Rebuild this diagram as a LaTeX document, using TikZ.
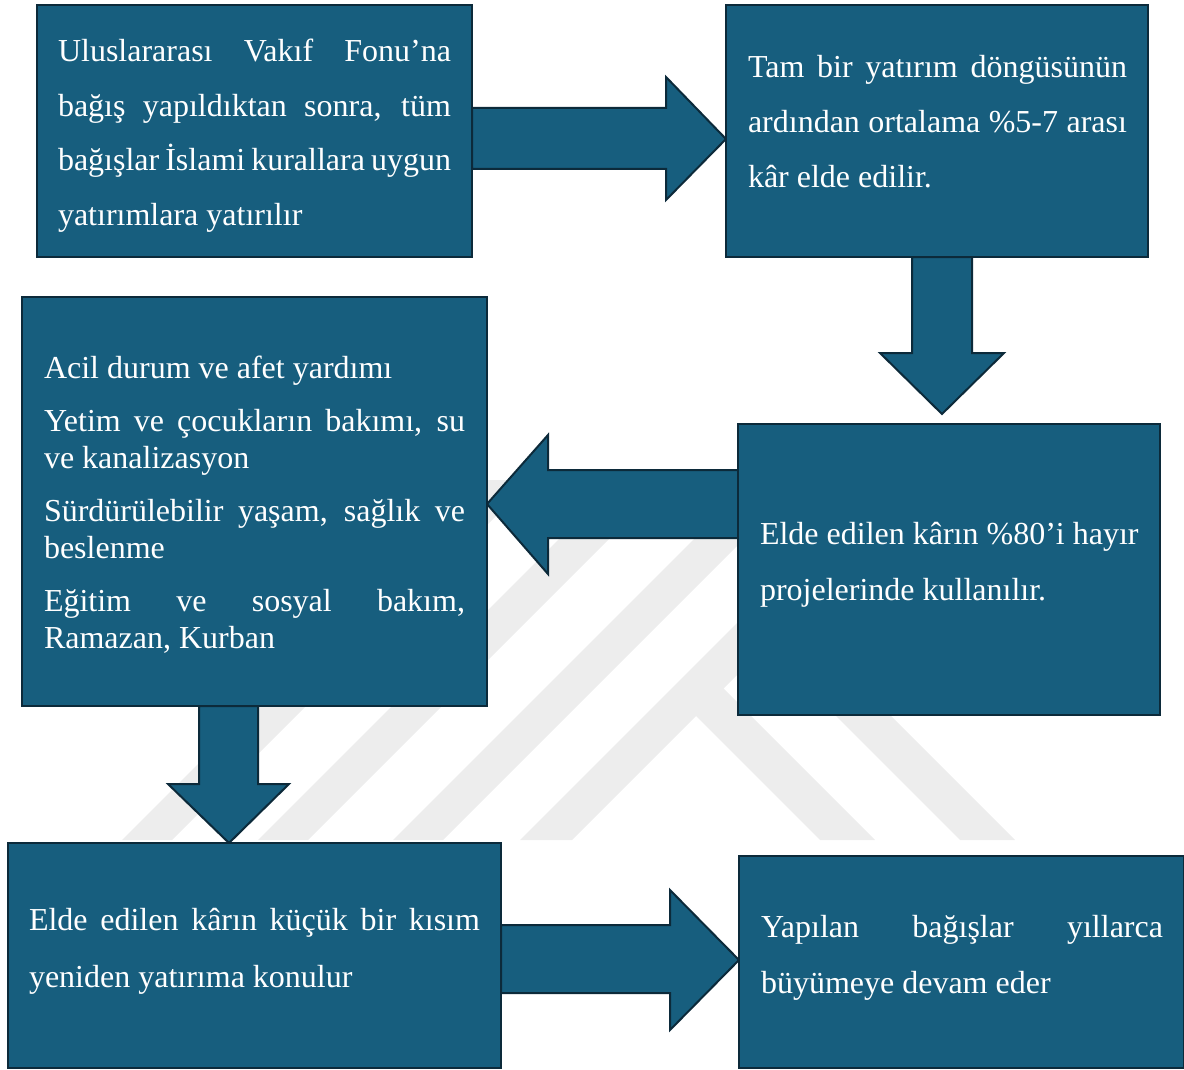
\documentclass[tikz,border=0pt]{standalone}
\usepackage{fontspec}
\setmainfont{Liberation Serif}
\definecolor{boxfill}{RGB}{23,94,126}
\definecolor{boxline}{RGB}{12,42,58}
\definecolor{wmgray}{RGB}{237,237,237}
\newcommand\myjust[2]{\makebox[#1][s]{#2}}
\newcommand\normsp{\spaceskip=0pt\relax\xspaceskip=0pt\relax}
\newcommand\myfont[1]{\fontsize{32}{#1}\selectfont}
\pgfdeclarelayer{wmlayer}
\pgfdeclarelayer{arrlayer}
\pgfsetlayers{wmlayer,arrlayer,main}
\begin{document}
\begin{tikzpicture}[x=1pt,y=-1pt,
  box/.style={draw=boxline, fill=boxfill, line width=2pt, inner sep=0pt, outer sep=0pt, anchor=north west},
  barrow/.style={draw=boxline, fill=boxfill, line width=2pt, line join=miter},
  txt/.style={text=white, anchor=base west, inner sep=0pt, outer sep=0pt, text width=520pt},
  wmband/.style={fill=wmgray, draw=none}]
\useasboundingbox (0,0) rectangle (1184,1070);

% boxes
\node[box, minimum width=435pt, minimum height=252pt] (b1) at (37,5) {};
\node[box, minimum width=422pt, minimum height=252pt] (b2) at (726,5) {};
\node[box, minimum width=465pt, minimum height=409pt] (b3) at (22,297) {};
\node[box, minimum width=422pt, minimum height=291pt] (b4) at (738,424) {};
\node[box, minimum width=493pt, minimum height=225pt] (b5) at (8,843) {};
\node[box, minimum width=445pt, minimum height=212pt] (b6) at (739,856) {};

% texts
\node[txt, font=\myfont{54.5}] (t1) at (58,62)
 {\normsp\myjust{393pt}{Uluslararası Vakıf Fonu’na}\\
  \myjust{393pt}{bağış yapıldıktan sonra, tüm}\\
  \myjust{393pt}{bağışlar İslami kurallara uygun}\\
  yatırımlara yatırılır};
\node[txt, font=\myfont{55}] (t2) at (748,78)
 {\normsp\myjust{379pt}{Tam bir yatırım döngüsünün}\\
  \myjust{379pt}{ardından ortalama \%5-7 arası}\\
  kâr elde edilir.};
\node[txt, font=\myfont{37}] (t3) at (44,378)
 {\normsp Acil durum ve afet yardımı\\[16pt]
  \myjust{421pt}{Yetim ve çocukların bakımı, su}\\
  ve kanalizasyon\\[16pt]
  \myjust{421pt}{Sürdürülebilir yaşam, sağlık ve}\\
  beslenme\\[16pt]
  \myjust{421pt}{Eğitim ve sosyal bakım,}\\
  Ramazan, Kurban};
\node[txt, font=\myfont{56}] (t4) at (760,544)
 {\normsp Elde edilen kârın \%80’i hayır\\
  projelerinde kullanılır.};
\node[txt, font=\myfont{57}] (t5) at (29,930)
 {\normsp\myjust{451pt}{Elde edilen kârın küçük bir kısım}\\
  yeniden yatırıma konulur};
\node[txt, font=\myfont{56}] (t6) at (761,937)
 {\normsp\myjust{402pt}{Yapılan bağışlar yıllarca}\\
  büyümeye devam eder};

% block arrows
\begin{pgfonlayer}{arrlayer}
\draw[barrow] (b1.east |- 0,108) -- (666,108) -- (666,77) -- (b2.west |- 0,139)
  -- (666,200) -- (666,169) -- (b1.east |- 0,169) -- cycle;
\draw[barrow] (912,0 |- b2.south) -- (912,353) -- (880,353) -- (942,414)
  -- (1004,353) -- (972,353) -- (972,0 |- b2.south) -- cycle;
\draw[barrow] (b4.west |- 0,470) -- (548,470) -- (548,435) -- (b3.east |- 0,504)
  -- (548,574) -- (548,538) -- (b4.west |- 0,538) -- cycle;
\draw[barrow] (199,0 |- b3.south) -- (199,784) -- (168,784) -- (229,0 |- b5.north)
  -- (289,784) -- (258,784) -- (258,0 |- b3.south) -- cycle;
\draw[barrow] (b5.east |- 0,925) -- (670,925) -- (670,890) -- (b6.west |- 0,960)
  -- (670,1030) -- (670,993) -- (b5.east |- 0,993) -- cycle;
\end{pgfonlayer}

% faint watermark
\begin{pgfonlayer}{wmlayer}
\begin{scope}
\clip (0,480) rectangle (1184,840);
\fill[wmband] (122,840) -- (172,840) -- (562,450) -- (512,450) -- cycle;
\fill[wmband] (258,840) -- (308,840) -- (698,450) -- (648,450) -- cycle;
\fill[wmband] (393,840) -- (443,840) -- (833,450) -- (783,450) -- cycle;
\fill[wmband] (520,840) -- (572,840) -- (962,450) -- (910,450) -- cycle;
\fill[wmband] (820,840) -- (875,840) -- (715,680) -- (685,705) -- cycle;
\fill[wmband] (960,840) -- (1015,840) -- (840,665) -- (785,665) -- cycle;
\end{scope}
\end{pgfonlayer}
\end{tikzpicture}
\end{document}
